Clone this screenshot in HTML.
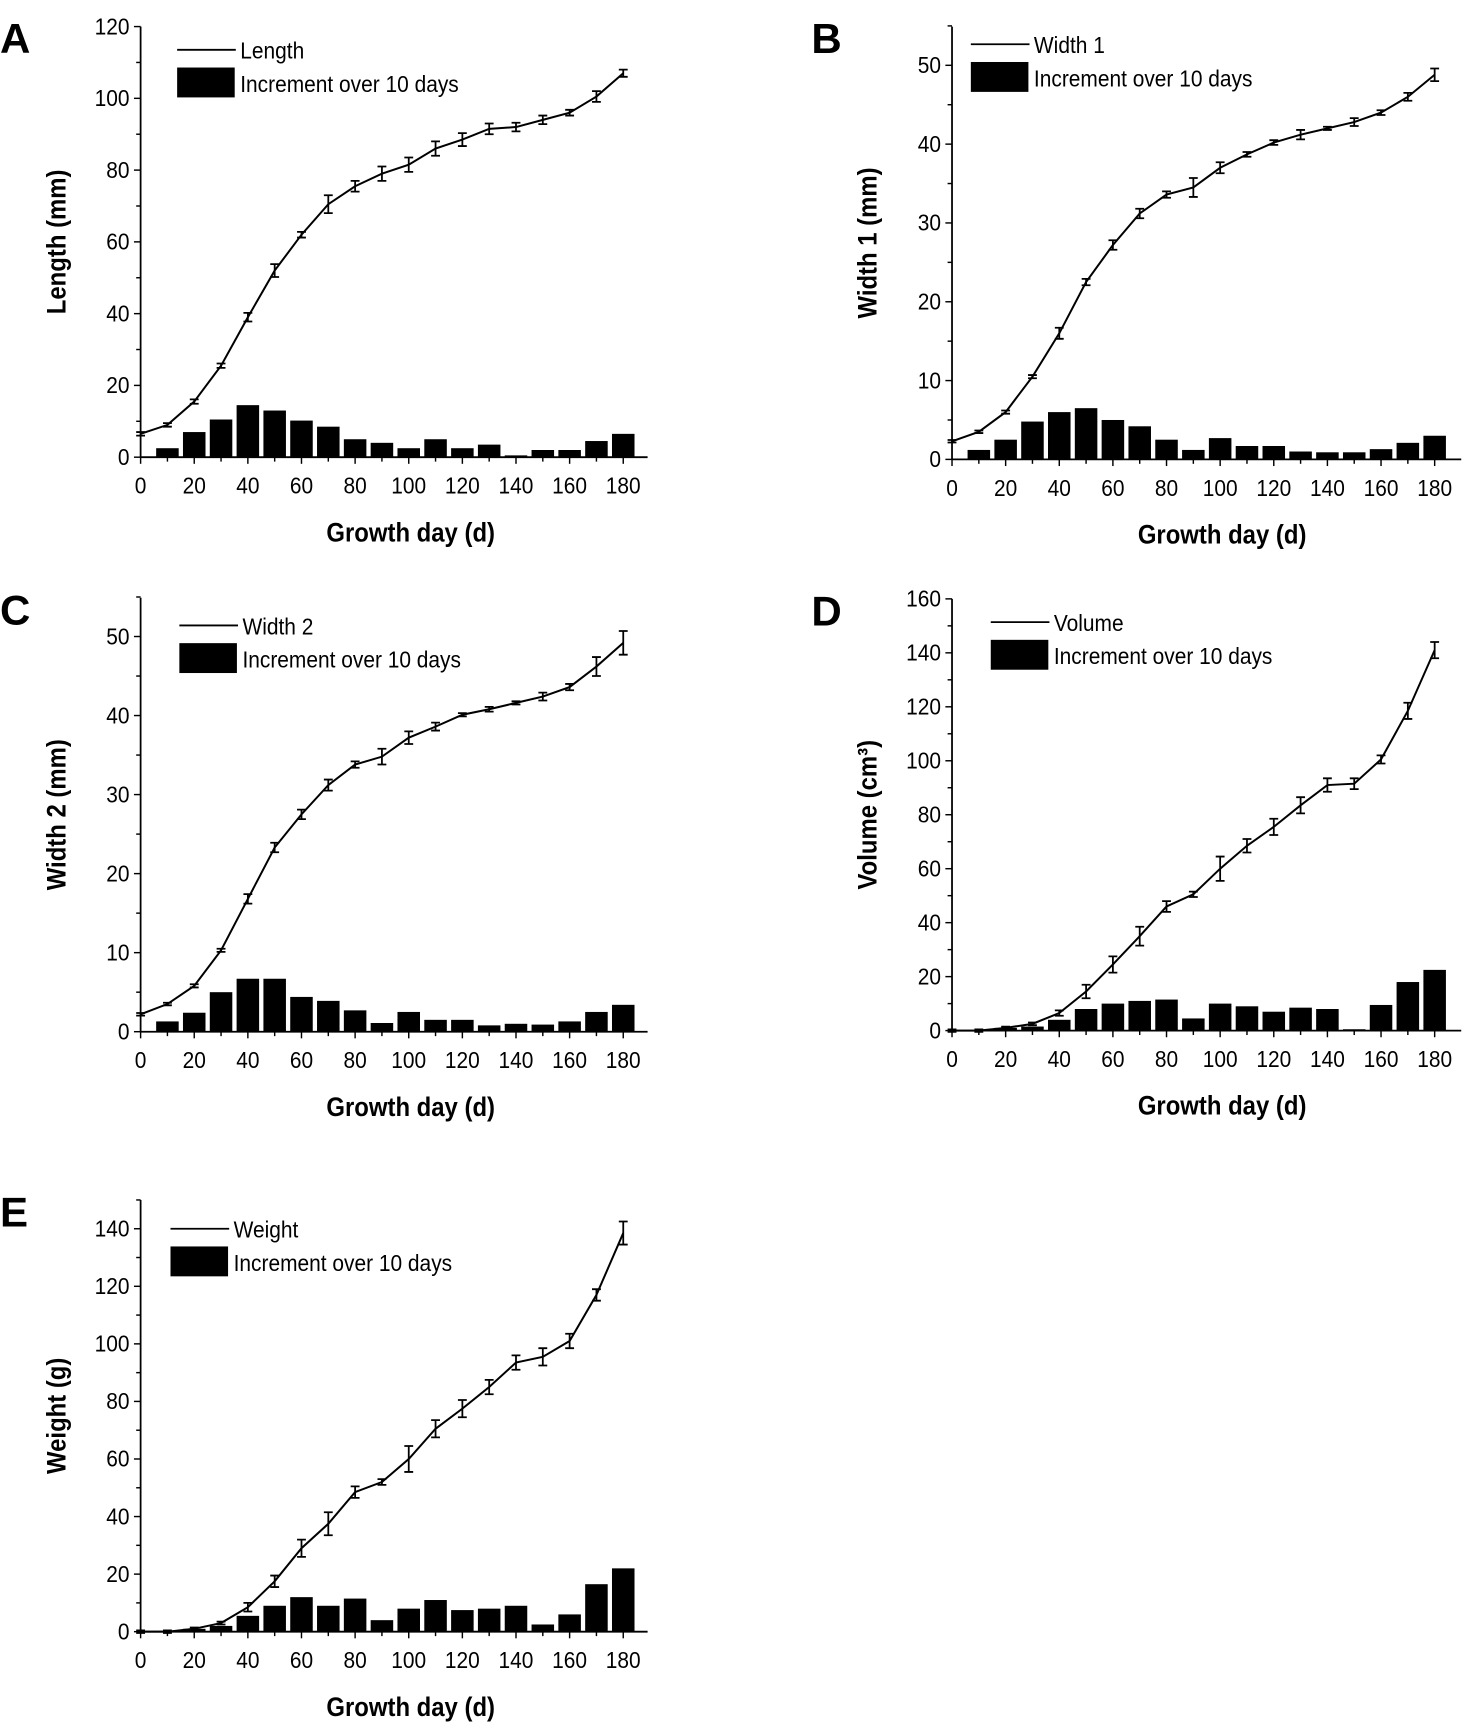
<!DOCTYPE html>
<html><head><meta charset="utf-8"><style>
html,body{margin:0;padding:0;background:#fff;}
svg text{font-family:"Liberation Sans Narrow","Liberation Sans",sans-serif;fill:#000;}
</style></head><body>
<svg id="s" width="1469" height="1724" viewBox="0 0 1327 1557.4" xmlns="http://www.w3.org/2000/svg"></svg>
<script>
const panels=[
{L:'A',x0:127,y0:413,top:24,right:585,ymax:120,step:20,minor:10,y1:24,yv:120,name:'Length',yl:'Length (mm)',lx:160,ly:45,
line:[6.5,9,15.5,25.5,39,52,62,70.5,75.5,79,81.5,86,88.5,91.5,92,94,96,100.5,107],
err:[0.5,0.5,0.6,0.6,1.2,1.8,0.8,2.5,1.5,2,2,2,1.8,1.5,1.2,1.2,0.8,1.5,1],
bars:[2.5,7,10.5,14.5,13,10.2,8.5,5,4,2.5,5,2.5,3.5,0.5,2,2,4.5,6.5]},
{L:'B',x0:860,y0:415,top:24,right:1320,ymax:55,step:10,minor:5,y1:59,yv:50,name:'Width 1',yl:'Width 1 (mm)',lx:877,ly:40,
line:[2.3,3.5,6,10.5,16,22.5,27.2,31.2,33.6,34.5,37,38.7,40.2,41.2,42,42.8,44,46,48.8],
err:[0.1,0.1,0.2,0.2,0.7,0.4,0.6,0.6,0.4,1.2,0.7,0.3,0.3,0.6,0.2,0.5,0.3,0.5,0.8],
bars:[1.2,2.5,4.8,6,6.5,5,4.2,2.5,1.2,2.7,1.7,1.7,1,0.9,0.9,1.3,2.1,3]},
{L:'C',x0:127,y0:932,top:540,right:585,ymax:55,step:10,minor:5,y1:575,yv:50,name:'Width 2',yl:'Width 2 (mm)',lx:162,ly:565,
line:[2.2,3.5,5.8,10.3,16.8,23.3,27.5,31.2,33.8,34.8,37.2,38.6,40.1,40.8,41.6,42.4,43.6,46.2,49.2],
err:[0.1,0.1,0.2,0.2,0.6,0.6,0.6,0.7,0.4,1,0.8,0.5,0.2,0.3,0.2,0.5,0.4,1.2,1.5],
bars:[1.3,2.4,5,6.7,6.7,4.4,3.9,2.7,1.1,2.5,1.5,1.5,0.8,1,0.9,1.3,2.5,3.4]},
{L:'D',x0:860,y0:931,top:541,right:1320,ymax:160,step:20,minor:10,y1:541,yv:160,name:'Volume',yl:'Volume (cm³)',lx:895,ly:562,
line:[0,0,1,2.5,6.5,14.5,24.5,35,46,50.5,60,68.5,75.5,83.5,91,91.5,100.5,118.5,141],
err:[0,0,0.3,0.5,1,2.5,3,3.5,2,1,4.5,2.5,3,3,2.5,2,1.5,3,3],
bars:[0,1,1.5,4,8,10,11,11.5,4.5,10,9,7,8.5,8,0.5,9.5,18,22.5]},
{L:'E',x0:127,y0:1474,top:1084,right:585,ymax:150,step:20,minor:10,y1:1110,yv:140,name:'Weight',yl:'Weight (g)',lx:154,ly:1110,
line:[0,0,1,3,8.5,17.5,29,37.5,48.5,52,60,70.5,77.5,85,93.5,95.5,101,117,138.5],
err:[0,0,0.3,0.5,1.5,2,3,4,2,1,4.5,3,3,2.5,2.5,3,2.5,2,4],
bars:[0,1,2,5.5,9,12,9,11.5,4,8,11,7.5,8,9,2.5,6,16.5,22]}
];
let h='';
for(const p of panels){
 const px=(563-127)/180, py=(p.y0-p.y1)/p.yv;
 const X=d=>p.x0+d*px, Y=v=>p.y0-v*py;
 p.bars.forEach((b,i)=>{const d=(i+1)*10;if(b<=0)return;h+=`<rect x="${X(d-4.2)}" y="${Y(b)}" width="${8.4*px}" height="${b*py}" fill="#000"/>`;});
 h+=`<line x1="${p.x0}" y1="${p.top}" x2="${p.x0}" y2="${p.y0}" stroke="#000" stroke-width="1.6"/>`;
 h+=`<line x1="${p.x0}" y1="${p.y0}" x2="${p.right}" y2="${p.y0}" stroke="#000" stroke-width="1.6"/>`;
 for(let v=0;v<=p.ymax+0.01;v+=p.minor){const y=Y(v);const maj=Math.abs(v/p.step-Math.round(v/p.step))<1e-6;
  h+=`<line x1="${p.x0-(maj?6:4)}" y1="${y}" x2="${p.x0}" y2="${y}" stroke="#000" stroke-width="1.3"/>`;
  if(maj)h+=`<text class="c" x="${p.x0-10}" y="${y+7}" font-size="21" text-anchor="end">${v}</text>`;}
 for(let d=0;d<=180;d+=10){const x=X(d);const maj=d%20==0;
  h+=`<line x1="${x}" y1="${p.y0}" x2="${x}" y2="${p.y0+(maj?6:4)}" stroke="#000" stroke-width="1.3"/>`;
  if(maj)h+=`<text class="c" x="${x}" y="${p.y0+33}" font-size="21" text-anchor="middle">${d}</text>`;}
 h+=`<polyline fill="none" stroke="#000" stroke-width="1.8" points="${p.line.map((v,i)=>X(i*10)+','+Y(v)).join(' ')}"/>`;
 p.line.forEach((v,i)=>{const e=Math.max(p.err[i],0.35*p.ymax/120);const x=X(i*10);
  h+=`<path d="M${x},${Y(v-e)}V${Y(v+e)}M${x-4},${Y(v-e)}H${x+4}M${x-4},${Y(v+e)}H${x+4}" stroke="#000" stroke-width="1.6" fill="none"/>`;});
 h+=`<line x1="${p.lx}" y1="${p.ly}" x2="${p.lx+53}" y2="${p.ly}" stroke="#000" stroke-width="1.6"/>`;
 h+=`<text class="c" x="${p.lx+57}" y="${p.ly+8}" font-size="21">${p.name}</text>`;
 h+=`<rect x="${p.lx}" y="${p.ly+16}" width="52" height="27" fill="#000"/>`;
 h+=`<text class="c" x="${p.lx+57}" y="${p.ly+38}" font-size="21">Increment over 10 days</text>`;
 const cx=p.x0<500?50:783, cy=(p.top+p.y0)/2;
 h+=`<text class="c" transform="translate(${cx+9},${cy}) rotate(-90)" font-size="24" font-weight="bold" text-anchor="middle">${p.yl}</text>`;
 h+=`<text class="c" x="${p.x0+244}" y="${p.y0+76}" font-size="24" font-weight="bold" text-anchor="middle">Growth day (d)</text>`;
 h+=`<text x="${p.x0<500?0:733}" y="${p.top+24}" font-size="38" font-weight="bold" font-family="Liberation Sans">${p.L}</text>`;
}
document.getElementById('s').innerHTML=h;
document.querySelectorAll('text.c').forEach(t=>{const l=t.getComputedTextLength();t.setAttribute('textLength',(l*0.9).toFixed(1));t.setAttribute('lengthAdjust','spacingAndGlyphs');});
</script>
</body></html>
